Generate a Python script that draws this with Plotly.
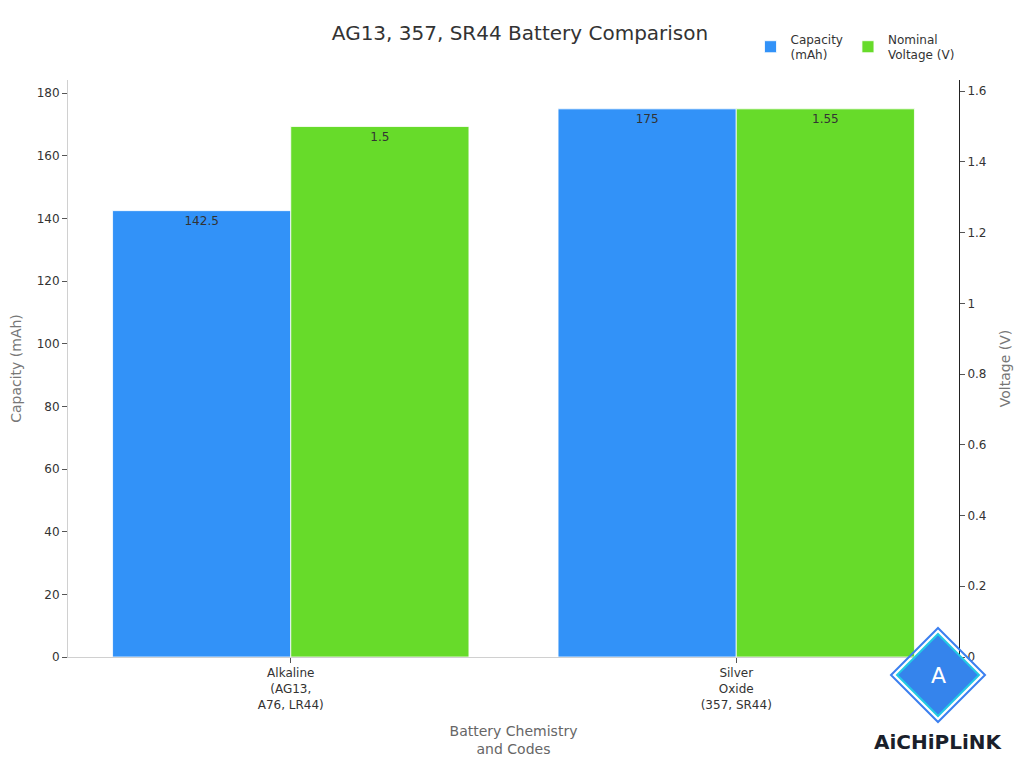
import plotly.graph_objects as go

categories = ["Alkaline<br>(AG13,<br>A76, LR44)", "Silver<br>Oxide<br>(357, SR44)"]
capacity_mah = [142.5, 175]
voltage_v = [1.5, 1.55]
series_names = ["Capacity<br>(mAh)", "Nominal<br>Voltage (V)"]

BLUE = "#3292f8"
GREEN = "#67db2a"
FONT = "DejaVu Sans"

W, H = 1024, 768
ML, MR, MT, MB = 60, 73, 72, 119

fig = go.Figure()
fig.add_trace(go.Bar(
    x=categories, y=capacity_mah, name=series_names[0],
    marker=dict(color=BLUE, line=dict(color="white", width=0.8)),
    offsetgroup="1", yaxis="y",
    text=[str(v) for v in capacity_mah], textposition="inside",
    insidetextanchor="end", textfont=dict(color="#333333", size=12, family=FONT),
))
fig.add_trace(go.Bar(
    x=categories, y=voltage_v, name=series_names[1],
    marker=dict(color=GREEN, line=dict(color="white", width=0.8)),
    offsetgroup="2", yaxis="y2",
    text=[str(v) for v in voltage_v], textposition="inside",
    insidetextanchor="end", textfont=dict(color="#333333", size=12, family=FONT),
))

fig.update_layout(
    width=W, height=H,
    paper_bgcolor="white", plot_bgcolor="white",
    font=dict(family=FONT, color="#333333", size=12),
    title=dict(text="AG13, 357, SR44 Battery Comparison", x=0.5, xanchor="center",
               y=1 - 25 / H, yanchor="middle", font=dict(size=20, color="#333333", family=FONT),
               automargin=False),
    margin=dict(l=ML, r=MR, t=MT, b=MB, autoexpand=False),
    barmode="group", bargap=0.2, bargroupgap=0,
    legend=dict(orientation="h", x=0.766, xanchor="left", y=1.096, yanchor="top",
                font=dict(size=12, color="#333333"), bgcolor="rgba(0,0,0,0)"),
    xaxis=dict(
        title=dict(text="Battery Chemistry<br>and Codes", font=dict(size=14, color="#666666")),
        showline=True, linecolor="#d0d0d0", linewidth=1, automargin=False,
        ticks="outside", ticklen=5, tickcolor="#555555",
        tickfont=dict(size=12, color="#333333"), showgrid=False,
    ),
    yaxis=dict(
        title=dict(text="Capacity (mAh)", font=dict(size=14, color="#777777"), standoff=18),
        showline=True, linecolor="#d0d0d0", linewidth=1, automargin=False,
        ticks="outside", ticklen=5, tickcolor="#555555",
        tickfont=dict(size=12, color="#333333"), showgrid=False, zeroline=False,
        dtick=20, rangemode="tozero",
    ),
    yaxis2=dict(
        title=dict(text="Voltage (V)", font=dict(size=14, color="#777777"), standoff=14),
        overlaying="y", side="right", anchor="x", automargin=False,
        showline=True, linecolor="#222222", linewidth=1,
        ticks="outside", ticklen=5, tickcolor="#555555",
        tickfont=dict(size=12, color="#333333"), showgrid=False, zeroline=False,
        dtick=0.2, rangemode="tozero",
    ),
)

# Watermark logo (decoration), positioned in screen pixels (page has 8px body offset)
def px(x, y):
    fx, fy = x - 8, y - 8
    return (fx - ML) / (W - ML - MR), ((H - MB) - fy) / (H - MT - MB)

cx, cy, r = 938, 675, 47
pts = [(cx, cy - r), (cx + r, cy), (cx, cy + r), (cx - r, cy)]
path = "M " + " L ".join(f"{px(a, b)[0]} {px(a, b)[1]}" for a, b in pts) + " Z"
fig.add_shape(type="path", path=path, xref="paper", yref="paper",
              fillcolor="rgba(0,0,0,0)", line=dict(color="#3b7ff0", width=2), layer="above")
r2 = 41
pts2 = [(cx, cy - r2), (cx + r2, cy), (cx, cy + r2), (cx - r2, cy)]
path2 = "M " + " L ".join(f"{px(a, b)[0]} {px(a, b)[1]}" for a, b in pts2) + " Z"
fig.add_shape(type="path", path=path2, xref="paper", yref="paper",
              fillcolor="#3584ec", line=dict(color="#22c9e4", width=2), layer="above")
fig.add_annotation(text="A", x=px(cx, cy)[0], y=px(cx, cy)[1], xref="paper", yref="paper",
                   xanchor="center", yanchor="middle",
                   showarrow=False, font=dict(size=22, color="white", family=FONT))
fig.add_annotation(text="<b>AiCHiPLiNK</b>", x=px(cx, 742)[0], y=px(cx, 742)[1],
                   xref="paper", yref="paper", showarrow=False, xanchor="center", yanchor="middle",
                   font=dict(size=20, color="#1a1f2b", family=FONT))

fig.write_html("out.html")
